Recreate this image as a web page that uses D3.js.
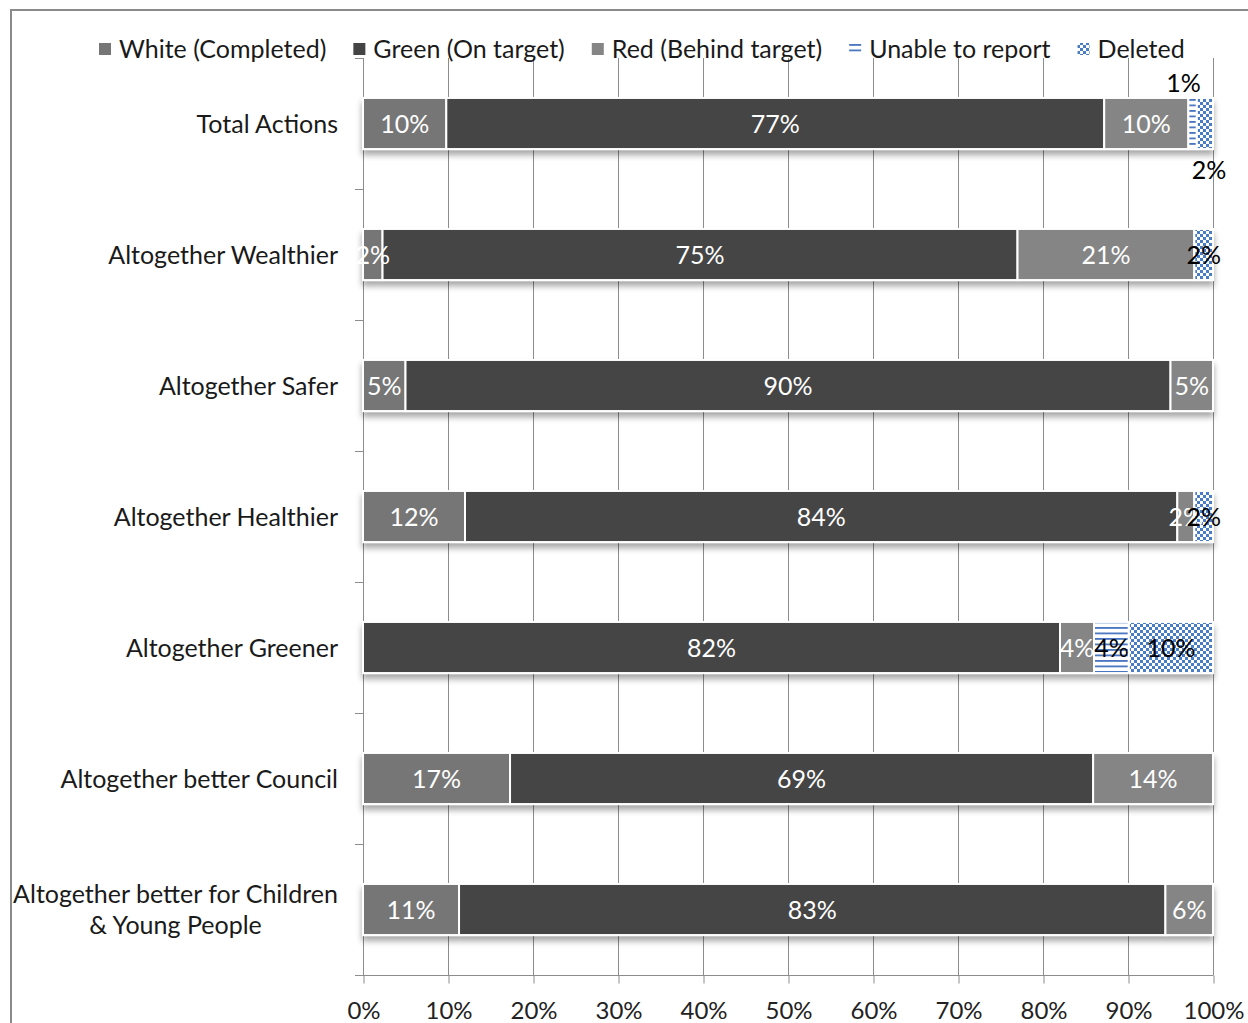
<!DOCTYPE html>
<html>
<head>
<meta charset="utf-8">
<script src="https://cdn.jsdelivr.net/npm/d3@7"></script>
<style>
  body { margin: 0; background: #fff; }
  svg { display: block; font-family: Lato, 'Liberation Sans', sans-serif; }
</style>
</head>
<body>
<script>

const categories = ['Total Actions', 'Altogether Wealthier', 'Altogether Safer', 'Altogether Healthier',
  'Altogether Greener', 'Altogether better Council', 'Altogether better for Children & Young People']

const seriesNames = ['White (Completed)', 'Green (On target)', 'Red (Behind target)', 'Unable to report', 'Deleted']

const completed = [9.8, 2.3, 5.0, 12.0, 0, 17.3, 11.3]
const onTarget = [77.4, 74.7, 90.0, 83.8, 82.0, 68.6, 83.1]
const behind = [9.9, 20.8, 5.0, 2.0, 4.0, 14.1, 5.6]
const unable = [1.0, 0, 0, 0, 4.1, 0, 0]
const deleted = [1.9, 2.2, 0, 2.2, 9.9, 0, 0]

const xTicks = [0, 10, 20, 30, 40, 50, 60, 70, 80, 90, 100]

const WIDTH = 1248
const HEIGHT = 1023
const FONT = 25

const plot = { left: 363, right: 1213, top: 58, bottom: 975 }

const keys = ['completed', 'onTarget', 'behind', 'unable', 'deleted']
const rows = categories.map((c, i) => ({
  cat: c,
  completed: completed[i],
  onTarget: onTarget[i],
  behind: behind[i],
  unable: unable[i],
  deleted: deleted[i],
}))

const svg = d3.select('body')
  .append('svg')
  .attr('width', WIDTH)
  .attr('height', HEIGHT)

const defs = svg.append('defs')

// horizontal lines pattern
const pLines = defs.append('pattern')
  .attr('id', 'pat-lines')
  .attr('patternUnits', 'userSpaceOnUse')
  .attr('width', 6)
  .attr('height', 5.5)
pLines.append('rect').attr('width', 6).attr('height', 5.5).attr('fill', '#fff')
pLines.append('rect').attr('y', 0).attr('width', 6).attr('height', 1.8).attr('fill', '#4a76c0')

// small checker pattern
const pCheck = defs.append('pattern')
  .attr('id', 'pat-check')
  .attr('patternUnits', 'userSpaceOnUse')
  .attr('width', 6)
  .attr('height', 6)
pCheck.append('rect').attr('width', 6).attr('height', 6).attr('fill', '#fff')
pCheck.append('rect').attr('width', 3).attr('height', 3).attr('fill', '#4a7cc6')
pCheck.append('rect').attr('x', 3).attr('y', 3).attr('width', 3).attr('height', 3).attr('fill', '#4a7cc6')

const shadow = defs.append('filter')
  .attr('id', 'shadow')
  .attr('x', '-5%').attr('y', '-20%')
  .attr('width', '110%').attr('height', '160%')
shadow.append('feDropShadow')
  .attr('dx', 0).attr('dy', 5)
  .attr('stdDeviation', 3)
  .attr('flood-color', '#000')
  .attr('flood-opacity', 0.35)

const fills = {
  completed: '#767676',
  onTarget: '#444444',
  behind: '#858585',
  unable: 'url(#pat-lines)',
  deleted: 'url(#pat-check)',
}

// outer frame
svg.append('rect')
  .attr('x', 11).attr('y', 10)
  .attr('width', 1400).attr('height', 1200)
  .attr('fill', 'none')
  .attr('stroke', '#8a8a8a')
  .attr('stroke-width', 2)

const xScale = d3.scaleLinear()
  .domain([0, 100])
  .range([plot.left, plot.right])

const yScale = d3.scaleBand()
  .domain(categories)
  .range([plot.top, plot.bottom])
  .paddingInner(0.61)
  .paddingOuter(0.305)

// gridlines
svg.append('g')
  .selectAll('line')
  .data(xTicks)
  .enter()
  .append('line')
  .attr('x1', d => Math.round(xScale(d)) + 0.5)
  .attr('x2', d => Math.round(xScale(d)) + 0.5)
  .attr('y1', plot.top)
  .attr('y2', plot.bottom)
  .attr('stroke', '#8c8c8c')
  .attr('stroke-width', 1)

// x axis
const xAxis = d3.axisBottom(xScale)
  .tickValues(xTicks)
  .tickFormat(d => d + '%')
  .tickSize(8)
  .tickSizeOuter(0)

const gx = svg.append('g')
  .attr('transform', 'translate(0.5,' + (plot.bottom + 0.5) + ')')
  .call(xAxis)
gx.select('.domain').attr('stroke', '#8c8c8c').attr('d', 'M' + (plot.left - 8) + ',0H' + plot.right)
gx.selectAll('.tick line').attr('stroke', '#8c8c8c')
gx.selectAll('.tick text')
  .attr('font-family', 'Lato, sans-serif')
  .attr('font-size', 24)
  .attr('fill', '#222')
  .attr('dy', 0)
  .attr('y', 43)

// y axis ticks at band boundaries
const bounds = d3.range(categories.length + 1).map(i => plot.top + i * (plot.bottom - plot.top) / categories.length)
svg.append('g')
  .selectAll('line')
  .data(bounds)
  .enter()
  .append('line')
  .attr('x1', plot.left - 8)
  .attr('x2', plot.left)
  .attr('y1', d => Math.round(d) + 0.5)
  .attr('y2', d => Math.round(d) + 0.5)
  .attr('stroke', '#8c8c8c')

// stacked bars
const stacked = d3.stack().keys(keys)(rows)

const rowG = svg.append('g')
  .selectAll('g')
  .data(rows)
  .enter()
  .append('g')
  .attr('filter', 'url(#shadow)')

rowG.each(function (row, i) {
  const g = d3.select(this)
  stacked.forEach(s => {
    const seg = s[i]
    if (seg[1] - seg[0] <= 0) return
    g.append('rect')
      .attr('x', xScale(seg[0]))
      .attr('y', yScale(row.cat))
      .attr('width', xScale(seg[1]) - xScale(seg[0]))
      .attr('height', yScale.bandwidth())
      .attr('fill', fills[s.key])
      .attr('stroke', '#fff')
      .attr('stroke-width', 2)
  })
})

// data labels
const labels = svg.append('g')
  .attr('font-size', FONT)
  .attr('text-anchor', 'middle')

stacked.forEach((s, k) => {
  s.forEach((seg, i) => {
    const v = seg[1] - seg[0]
    if (v <= 0) return
    let x = xScale((seg[0] + seg[1]) / 2)
    let y = yScale(categories[i]) + yScale.bandwidth() / 2
    // the two tiny slivers of the first bar have their labels moved off the bar
    if (i === 0 && s.key === 'unable') { x -= 9; y = yScale(categories[i]) - 15 }
    if (i === 0 && s.key === 'deleted') { x += 4; y = yScale(categories[i]) + yScale.bandwidth() + 21 }
    labels.append('text')
      .attr('x', x)
      .attr('y', y)
      .attr('dy', '0.36em')
      .attr('fill', k < 3 ? '#fff' : '#000')
      .text(Math.round(v) + '%')
  })
})

// category labels
const catG = svg.append('g')
  .attr('font-size', FONT)
  .attr('fill', '#1a1a1a')

categories.forEach(c => {
  const cy = yScale(c) + yScale.bandwidth() / 2
  if (c.indexOf('Children') >= 0) {
    const lines = ['Altogether better for Children', '& Young People']
    const t1 = catG.append('text')
      .attr('x', 338).attr('y', cy - 15.5).attr('dy', '0.36em')
      .attr('text-anchor', 'end').text(lines[0])
    const w = t1.node().getComputedTextLength()
    catG.append('text')
      .attr('x', 338 - w / 2).attr('y', cy + 15.5).attr('dy', '0.36em')
      .attr('text-anchor', 'middle').text(lines[1])
  } else {
    catG.append('text')
      .attr('x', 338).attr('y', cy).attr('dy', '0.36em')
      .attr('text-anchor', 'end').text(c)
  }
})

// legend
const legend = svg.append('g')
  .attr('font-size', FONT)
  .attr('fill', '#1a1a1a')

let lx = 99
seriesNames.forEach((name, k) => {
  const key = keys[k]
  legend.append('rect')
    .attr('x', lx).attr('y', 43)
    .attr('width', 12).attr('height', 12)
    .attr('fill', fills[key])
  const t = legend.append('text')
    .attr('x', lx + 20)
    .attr('y', 49)
    .attr('dy', '0.36em')
    .text(name)
  lx += 20 + t.node().getComputedTextLength() + 27
})

</script>
</body>
</html>
